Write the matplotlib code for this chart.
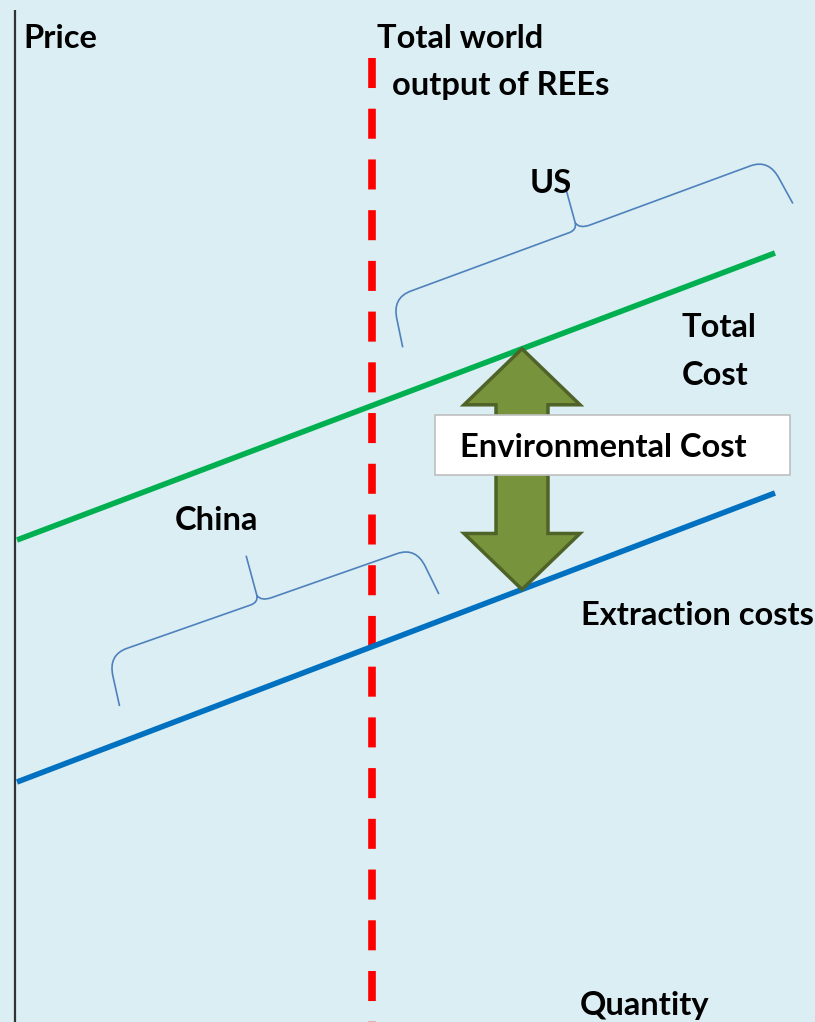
import numpy as np
import matplotlib
matplotlib.use("Agg")
import matplotlib.pyplot as plt
from matplotlib.path import Path
from matplotlib.patches import PathPatch, Polygon, Rectangle

# chart values (quantity on x, price on y, in picture units)
quantity = [17, 775]
total_cost = [482, 769]
extraction_cost = [240, 529]
world_output = 372
gap_at = 522
china_brace = [(108, 367), (416, 475)]
us_brace = [(392, 724), (769, 863)]

bg = "#DAEEF3"
plt.rcParams["font.family"] = ["Lato", "DejaVu Sans"]
plt.rcParams["font.weight"] = "bold"

fig = plt.figure(figsize=(8.15, 10.22), dpi=100, facecolor=bg)
ax = fig.add_axes([0, 0, 1, 1])
ax.set_facecolor(bg)
ax.set_xlim(0, 815)
ax.set_ylim(0, 1022)
ax.axis("off")

# price axis
ax.plot([15, 15], [0, 1012], color="#333333", lw=1.6, solid_capstyle="butt")

# supply curves
ax.plot(quantity, total_cost, color="#00B050", lw=4, solid_capstyle="butt", zorder=3)
ax.plot(quantity, extraction_cost, color="#0070C0", lw=4, solid_capstyle="butt", zorder=3)

# world output
ax.plot([world_output, world_output], [964, 0], color="#FF0000", lw=5.5,
        linestyle=(0, (3.93, 2.71)), zorder=2)


def brace(c0, c1, drop=50, flare=7, tip=45):
    (x0, y0), (x1, y1) = c0, c1
    L = np.hypot(x1 - x0, y1 - y0)
    th = np.arctan2(y1 - y0, x1 - x0)
    h = L / 2
    pts = [(-flare, -drop), (-0.4 * flare, -22), (0, 0), (20, 0),
           (h - 12, 0), (h - 4, 0), (h - 3, 7), (h, tip),
           (h - 3, 7), (h - 1, 0), (h + 10, 0),
           (L - 20, 0), (L, 0), (L + 0.4 * flare, -22), (L + flare, -drop)]
    codes = [Path.MOVETO, Path.LINETO, Path.CURVE3, Path.CURVE3,
             Path.LINETO, Path.CURVE3, Path.CURVE3, Path.LINETO,
             Path.MOVETO, Path.CURVE3, Path.CURVE3,
             Path.LINETO, Path.CURVE3, Path.CURVE3, Path.LINETO]
    pts = np.array(pts)
    rot = np.array([[np.cos(th), -np.sin(th)], [np.sin(th), np.cos(th)]])
    xy = pts @ rot.T + [x0, y0]
    ax.add_patch(PathPatch(Path(xy, codes), fill=False, edgecolor="#4F81BD",
                           lw=1.2, zorder=2))


brace(*us_brace, drop=50, flare=7, tip=42)
brace(*china_brace, drop=52, flare=6, tip=48)

# environmental cost arrow between the two curves
top = np.interp(gap_at, quantity, total_cost)
bot = np.interp(gap_at, quantity, extraction_cost)
hl, hw, sw = 56, 58, 26
q = gap_at
arrow = [(q, top), (q + hw, top - hl), (q + sw, top - hl), (q + sw, bot + hl),
         (q + hw, bot + hl), (q, bot), (q - hw, bot + hl), (q - sw, bot + hl),
         (q - sw, top - hl), (q - hw, top - hl)]
ax.add_patch(Polygon(arrow, closed=True, facecolor="#77933C", edgecolor="#4F6228",
                     lw=2.5, joinstyle="miter", zorder=4))

ax.add_patch(Rectangle((435, 547), 355, 60, facecolor="white", edgecolor="#BFBFBF",
                       lw=1.2, zorder=5))

fs = 23.5
labels = [("Price", 23, 974), ("Total world", 377, 974), ("output of REEs", 392, 927),
          ("US", 530, 829), ("Total", 682, 685), ("Cost", 682, 637),
          ("China", 175, 492), ("Extraction costs", 581, 397), ("Quantity", 580, 7)]
for s, x, y in labels:
    ax.text(x, y, s, fontsize=fs, fontweight="bold", color="black", ha="left",
            va="baseline", zorder=6)
ax.text(460, 565, "Environmental Cost", fontsize=fs, fontweight="bold", color="black",
        ha="left", va="baseline", zorder=6)

fig.savefig("out.png", dpi=100, facecolor=bg)
